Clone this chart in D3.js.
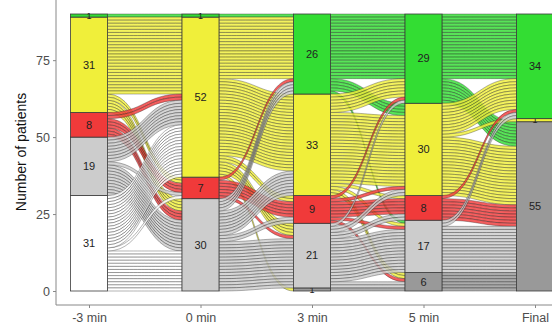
<!DOCTYPE html>
<meta charset="utf-8">
<style>
body { margin: 0; background: #fff; }
text { font-family: "Liberation Sans", Arial, sans-serif; }
.flow { stroke: #222; stroke-width: 0.4px; stroke-opacity: 0.85; fill-opacity: 0.82; }
.stratum { stroke: #3a3a3a; stroke-width: 0.8px; }
.tick text { fill: #4d4d4d; font-size: 12.5px; }
</style>
<body>
<script src="https://d3js.org/d3.v7.min.js"></script>
<script>

// time points on the x axis
var times = ["-3 min", "0 min", "3 min", "5 min", "Final"];

// states, stacked bottom -> top
var states = ["Dark", "White", "Gray", "Red", "Yellow", "Green"];
var stateColors = ["#999999", "#ffffff", "#cccccc", "#f03a3a", "#f0ef3a", "#33dd33"];

// patients in each state at each time point (same order as states)
var countsM3 = [0, 31, 19, 8, 31, 1];
var counts0 = [0, 0, 30, 7, 52, 1];
var counts3 = [1, 0, 21, 9, 33, 26];
var counts5 = [6, 0, 17, 8, 30, 29];
var countsFinal = [55, 0, 0, 0, 1, 34];

// transitions between neighbouring time points: [from, to, patients]
var flowsA = [
  ["White", "Gray", 13], ["White", "Red", 1], ["White", "Yellow", 17],
  ["Gray", "Gray", 10], ["Gray", "Red", 1], ["Gray", "Yellow", 8],
  ["Red", "Gray", 3], ["Red", "Red", 3], ["Red", "Yellow", 2],
  ["Yellow", "Gray", 4], ["Yellow", "Red", 2], ["Yellow", "Yellow", 25],
  ["Green", "Green", 1]
];
var flowsB = [
  ["Gray", "Gray", 16], ["Gray", "Red", 2], ["Gray", "Yellow", 8], ["Gray", "Green", 4],
  ["Red", "Gray", 1], ["Red", "Red", 5], ["Red", "Green", 1],
  ["Yellow", "Dark", 1], ["Yellow", "Gray", 4], ["Yellow", "Red", 2], ["Yellow", "Yellow", 25], ["Yellow", "Green", 20],
  ["Green", "Green", 1]
];
var flowsC = [
  ["Dark", "Dark", 1],
  ["Gray", "Dark", 2], ["Gray", "Gray", 14], ["Gray", "Red", 2], ["Gray", "Yellow", 2], ["Gray", "Green", 1],
  ["Red", "Dark", 1], ["Red", "Gray", 1], ["Red", "Red", 5], ["Red", "Yellow", 1], ["Red", "Green", 1],
  ["Yellow", "Dark", 2], ["Yellow", "Gray", 1], ["Yellow", "Red", 1], ["Yellow", "Yellow", 23], ["Yellow", "Green", 6],
  ["Green", "Gray", 1], ["Green", "Yellow", 4], ["Green", "Green", 21]
];
var flowsD = [
  ["Dark", "Dark", 6],
  ["Gray", "Dark", 15], ["Gray", "Green", 2],
  ["Red", "Dark", 7], ["Red", "Green", 1],
  ["Yellow", "Dark", 19], ["Yellow", "Yellow", 1], ["Yellow", "Green", 10],
  ["Green", "Dark", 8], ["Green", "Green", 21]
];

var yTicks = [0, 25, 50, 75];

var allCounts = [countsM3, counts0, counts3, counts5, countsFinal];
var allFlows = [flowsA, flowsB, flowsC, flowsD];

var width = 552, height = 331;

var svg = d3.select("body").append("svg")
    .attr("width", width)
    .attr("height", height);

var x = d3.scalePoint().domain(times).range([89, 535]);
var y = d3.scaleLinear().domain([0, 90]).range([291, 14]);
var color = d3.scaleOrdinal().domain(states).range(stateColors);
var boxW = 37;

// bottom of each stratum (in patients) for every time point
var bottoms = allCounts.map(function(c) {
  var acc = 0;
  return c.map(function(v) { var b = acc; acc += v; return b; });
});

// one ribbon per patient
var flowG = svg.append("g");
allFlows.forEach(function(flows, i) {
  var x0 = x(times[i]) + boxW / 2,
      x1 = x(times[i + 1]) - boxW / 2,
      xm = (x0 + x1) / 2;
  var outTop = {}, inTop = {};
  // outgoing: in each source stratum, targets from top down
  states.forEach(function(s, si) {
    var top = bottoms[i][si] + allCounts[i][si];
    d3.range(states.length - 1, -1, -1).forEach(function(ti) {
      var f = flows.find(function(d) { return d[0] == s && d[1] == states[ti]; });
      if (f) { outTop[s + ">" + states[ti]] = top; top -= f[2]; }
    });
  });
  // incoming: in each target stratum, sources from top down
  states.forEach(function(t, ti) {
    var top = bottoms[i + 1][ti] + allCounts[i + 1][ti];
    d3.range(states.length - 1, -1, -1).forEach(function(si) {
      var f = flows.find(function(d) { return d[0] == states[si] && d[1] == t; });
      if (f) { inTop[states[si] + ">" + t] = top; top -= f[2]; }
    });
  });
  // draw top sources first so the lower ones sit on top
  var ordered = flows.slice().sort(function(a, b) {
    return states.indexOf(b[0]) - states.indexOf(a[0]);
  });
  ordered.forEach(function(f) {
    var key = f[0] + ">" + f[1];
    d3.range(f[2]).forEach(function(k) {
      var a0 = y(outTop[key] - k), a1 = y(outTop[key] - k - 1),
          b0 = y(inTop[key] - k), b1 = y(inTop[key] - k - 1);
      var p = d3.path();
      p.moveTo(x0, a0);
      p.bezierCurveTo(xm, a0, xm, b0, x1, b0);
      p.lineTo(x1, b1);
      p.bezierCurveTo(xm, b1, xm, a1, x0, a1);
      p.closePath();
      flowG.append("path")
          .attr("class", "flow")
          .attr("d", p.toString())
          .style("fill", color(f[0]));
    });
  });
});

// strata boxes and counts
times.forEach(function(t, i) {
  states.forEach(function(s, si) {
    var n = allCounts[i][si];
    if (!n) return;
    var b = bottoms[i][si];
    svg.append("rect")
        .attr("class", "stratum")
        .attr("x", x(t) - boxW / 2)
        .attr("y", y(b + n))
        .attr("width", boxW)
        .attr("height", y(b) - y(b + n))
        .style("fill", color(s));
    svg.append("text")
        .attr("x", x(t))
        .attr("y", y(b + n / 2))
        .attr("dy", "0.35em")
        .attr("text-anchor", "middle")
        .attr("font-size", n == 1 ? "9px" : "11px")
        .style("fill", "#222")
        .text(n);
  });
});

// axes
svg.append("line").attr("x1", 56).attr("x2", 56).attr("y1", 0).attr("y2", 305)
    .style("stroke", "#888");
svg.append("line").attr("x1", 56).attr("x2", width).attr("y1", 305).attr("y2", 305)
    .style("stroke", "#888");

var yAxis = svg.append("g")
    .attr("transform", "translate(56,0)")
    .call(d3.axisLeft(y).tickValues(yTicks).tickSize(3).tickPadding(3));
yAxis.select(".domain").remove();
yAxis.selectAll(".tick line").style("stroke", "#888");

var xAxis = svg.append("g")
    .attr("transform", "translate(0,305)")
    .call(d3.axisBottom(x).tickSize(3).tickPadding(5.5));
xAxis.select(".domain").remove();
xAxis.selectAll(".tick line").style("stroke", "#888");

svg.append("text")
    .attr("transform", "translate(26,152) rotate(-90)")
    .attr("text-anchor", "middle")
    .attr("font-size", "14px")
    .style("fill", "#111")
    .text("Number of patients");

</script>
